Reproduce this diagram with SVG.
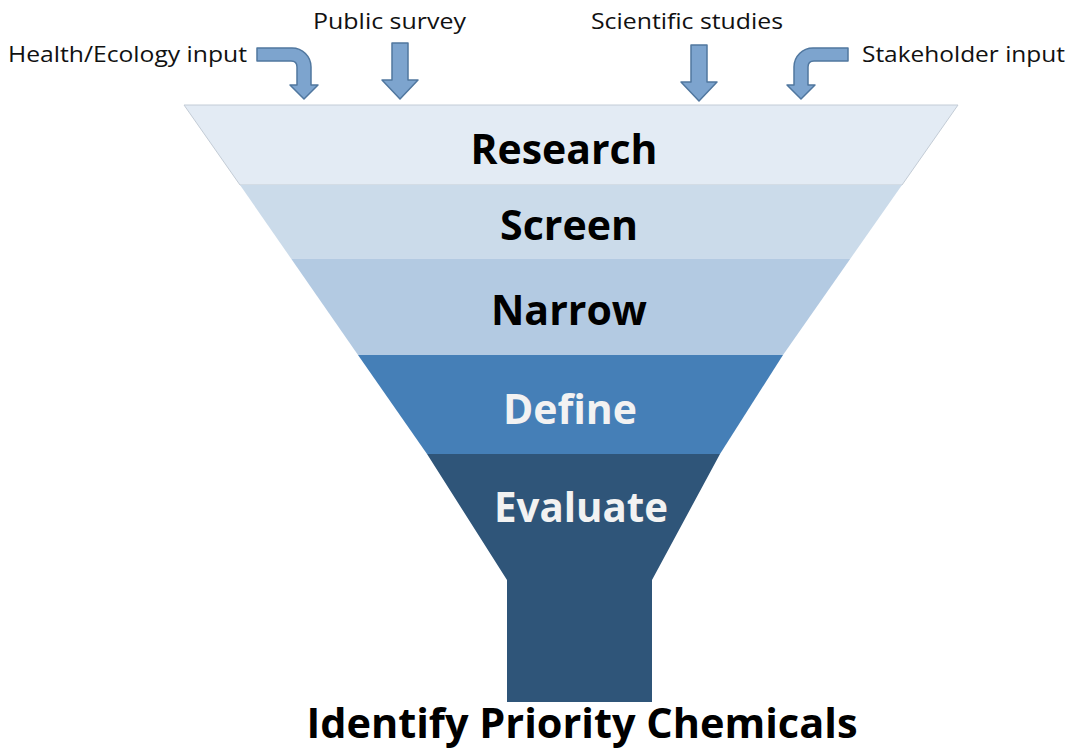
<svg xmlns="http://www.w3.org/2000/svg" width="1069" height="750" viewBox="0 0 1069 750">
  <defs>
    <style>
      .lbl { font-family: "Open Sans", "Noto Sans", sans-serif; font-size: 22px; fill: #111; }
      .band { font-family: "Open Sans", "Noto Sans", sans-serif; font-weight: 700; font-size: 42px; text-anchor: middle; }
      .dark { fill: #000; }
      .light { fill: #F2F2F2; }
      .arrow { fill: #7DA4CE; stroke: #50779F; stroke-width: 1.5; stroke-linejoin: round; }
      .edge { stroke: #C3CCD6; stroke-width: 1; }
    </style>
    <path id="bent" d="M257,48 L292,48 A19,19 0 0 1 311,67 L311,85 L318,85 L304,99 L290,85 L297,85 L297,67 Q297,61 291,61 L257,61 Z"/>
    <path id="down" d="M-8,0 L8,0 L8,37 L18,37 L0,56 L-18,37 L-8,37 Z"/>
  </defs>
  <rect width="1069" height="750" fill="#FFFFFF"/>

  <g id="connectors">
    <use href="#bent" class="arrow"/>
    <use href="#bent" class="arrow" transform="translate(1105,0) scale(-1,1)"/>
    <use href="#down" class="arrow" transform="translate(400,43)"/>
    <use href="#down" class="arrow" transform="translate(699,45)"/>
  </g>

  <g id="inputs">
    <text class="lbl" x="8" y="62" textLength="239" lengthAdjust="spacingAndGlyphs">Health/Ecology input</text>
    <text class="lbl" x="313" y="29" textLength="153" lengthAdjust="spacingAndGlyphs">Public survey</text>
    <text class="lbl" x="591" y="29" textLength="192" lengthAdjust="spacingAndGlyphs">Scientific studies</text>
    <text class="lbl" x="862" y="62" textLength="203" lengthAdjust="spacingAndGlyphs">Stakeholder input</text>
  </g>

  <g id="research">
    <polygon points="184,105 958,105 902,185 240,185" fill="#E3EBF4" class="edge"/>
    <text class="band dark" x="564" y="164" textLength="187" lengthAdjust="spacingAndGlyphs">Research</text>
  </g>
  <g id="screen">
    <polygon points="240,185 902,185 850.5,258.5 291,258.5" fill="#CBDBEA"/>
    <text class="band dark" x="569" y="240" textLength="138" lengthAdjust="spacingAndGlyphs">Screen</text>
  </g>
  <g id="narrow">
    <polygon points="291,258.5 850.5,258.5 783,355 358,355" fill="#B3CAE2"/>
    <text class="band dark" x="569" y="325" textLength="156" lengthAdjust="spacingAndGlyphs">Narrow</text>
  </g>
  <g id="define">
    <polygon points="358,355 783,355 720,454 427,454" fill="#457FB7"/>
    <text class="band light" x="570" y="424" textLength="134" lengthAdjust="spacingAndGlyphs">Define</text>
  </g>
  <g id="evaluate">
    <polygon points="427,454 720,454 652,580 652,702 507,702 507,580" fill="#2F5579"/>
    <text class="band light" x="581" y="522" textLength="174" lengthAdjust="spacingAndGlyphs">Evaluate</text>
  </g>

  <g id="output">
    <text class="band dark" x="582" y="738" font-size="45" textLength="551" lengthAdjust="spacingAndGlyphs">Identify Priority Chemicals</text>
  </g>
</svg>
